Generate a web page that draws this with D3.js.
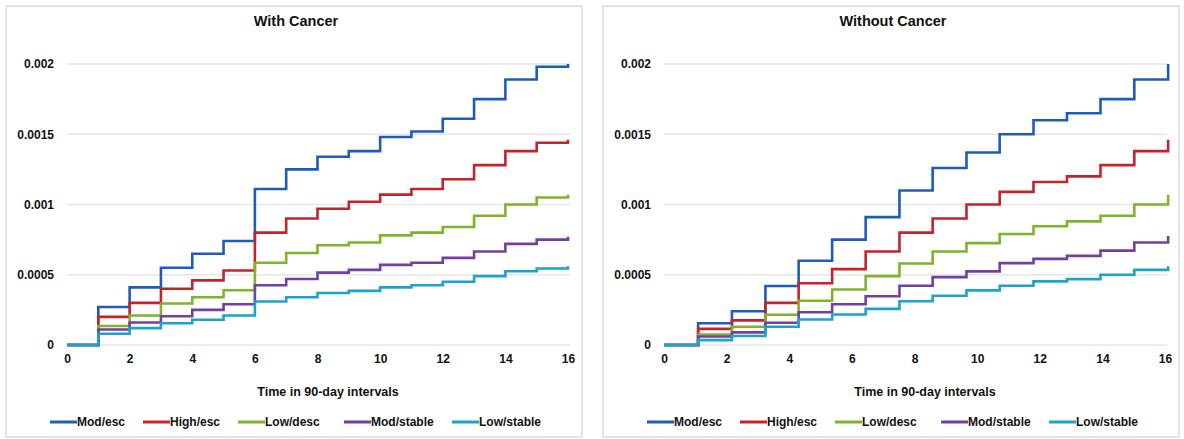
<!DOCTYPE html>
<html>
<head>
<meta charset="utf-8">
<script src="https://cdn.jsdelivr.net/npm/d3@7"></script>
<style>
  body { margin: 0; background: #fff; }
  svg text { font-family: "Liberation Sans", Arial, sans-serif; font-weight: bold; fill: #111; }
</style>
</head>
<body>
<div id="chart"></div>
<script>
// ---- data ----
const seriesNames = ["Mod/esc", "High/esc", "Low/desc", "Mod/stable", "Low/stable"];
const seriesColors = ["#1f5cb8", "#c3242b", "#7db52a", "#7440a0", "#1ca3cb"];
const xTicks = [0, 2, 4, 6, 8, 10, 12, 14, 16];
const yTicks = [0, 0.0005, 0.001, 0.0015, 0.002];
const yTickLabels = ["0", "0.0005", "0.001", "0.0015", "0.002"];

// With Cancer
const withTimes = [0, 1, 2, 3, 4, 5, 6, 7, 8, 9, 10, 11, 12, 13, 14, 15, 16];
const withModEsc = [0, 0.00027, 0.00041, 0.00055, 0.00065, 0.00074, 0.00111, 0.00125, 0.00134, 0.00138, 0.00148, 0.00152, 0.00161, 0.00175, 0.00189, 0.00198, 0.002];
const withHighEsc = [0, 0.0002, 0.0003, 0.0004, 0.00046, 0.00053, 0.0008, 0.0009, 0.00097, 0.00102, 0.00107, 0.00111, 0.00118, 0.00128, 0.00138, 0.00144, 0.00146];
const withLowDesc = [0, 0.000135, 0.00021, 0.000295, 0.00034, 0.00039, 0.000585, 0.000655, 0.00071, 0.00073, 0.00078, 0.0008, 0.00084, 0.00092, 0.001, 0.00105, 0.00107];
const withModStable = [0, 0.00011, 0.00016, 0.000205, 0.00025, 0.00029, 0.000425, 0.00047, 0.000515, 0.000535, 0.00057, 0.000585, 0.00062, 0.000665, 0.00072, 0.00075, 0.00077];
const withLowStable = [0, 0.00008, 0.00012, 0.000155, 0.00018, 0.00021, 0.00031, 0.00034, 0.00037, 0.000385, 0.00041, 0.000425, 0.00045, 0.00049, 0.000525, 0.000545, 0.00056];

// Without Cancer
const withoutTimes = [0, 1.09, 2.17, 3.24, 4.3, 5.37, 6.44, 7.52, 8.58, 9.66, 10.72, 11.8, 12.87, 13.94, 15.02, 16.1];
const withoutModEsc = [0, 0.000155, 0.00024, 0.00042, 0.0006, 0.00075, 0.00091, 0.0011, 0.00126, 0.00137, 0.0015, 0.0016, 0.00165, 0.00175, 0.00189, 0.002];
const withoutHighEsc = [0, 0.000115, 0.000175, 0.0003, 0.00044, 0.00054, 0.000665, 0.0008, 0.0009, 0.001, 0.00109, 0.00116, 0.0012, 0.00128, 0.00138, 0.00146];
const withoutLowDesc = [0, 0.000075, 0.00013, 0.000215, 0.000315, 0.000395, 0.00049, 0.00058, 0.000665, 0.000725, 0.00079, 0.000845, 0.00088, 0.00092, 0.001, 0.00107];
const withoutModStable = [0, 0.00006, 0.00009, 0.000158, 0.000233, 0.00029, 0.000347, 0.000422, 0.000483, 0.000524, 0.000583, 0.000613, 0.000634, 0.000672, 0.00073, 0.000776];
const withoutLowStable = [0, 0.000035, 0.000064, 0.00013, 0.000182, 0.000217, 0.000257, 0.000311, 0.000351, 0.000389, 0.000422, 0.000453, 0.000469, 0.0005, 0.000535, 0.00056];

const panels = [
    { title: "With Cancer", left: 6, times: withTimes,
      series: [withModEsc, withHighEsc, withLowDesc, withModStable, withLowStable] },
    { title: "Without Cancer", left: 603, times: withoutTimes,
      series: [withoutModEsc, withoutHighEsc, withoutLowDesc, withoutModStable, withoutLowStable] }
];

const svg = d3.select("#chart").append("svg")
    .attr("width", 1184)
    .attr("height", 439);

const panelW = 576, panelH = 431;
// legend offsets inside a panel (line start)
const legendX = [44, 137, 232, 338, 446];

panels.forEach(p => {
    const g = svg.append("g").attr("transform", `translate(${p.left}, 6)`);

    g.append("rect")
        .attr("width", panelW)
        .attr("height", panelH)
        .attr("fill", "#fff")
        .attr("stroke", "#dcdcdc")
        .attr("stroke-width", 1.5);

    g.append("text")
        .attr("x", 290)
        .attr("y", 20)
        .attr("text-anchor", "middle")
        .style("font-size", "14.5px")
        .text(p.title);

    const x = d3.scaleLinear().domain([0, 16]).range([61, 562]);
    const y = d3.scaleLinear().domain([0, 0.002]).range([339, 58]);

    // gridlines
    g.selectAll(".grid")
        .data(yTicks)
        .enter().append("line")
        .attr("x1", x(0))
        .attr("x2", x(16) + 2)
        .attr("y1", d => y(d))
        .attr("y2", d => y(d))
        .attr("stroke", "#e6e6e6")
        .attr("stroke-width", 1.5);

    // y axis
    const yAxis = d3.axisLeft(y)
        .tickValues(yTicks)
        .tickFormat((d, i) => yTickLabels[i])
        .tickSize(0)
        .tickPadding(13);
    const yG = g.append("g").attr("transform", `translate(${x(0)}, 0)`).call(yAxis);
    yG.select(".domain").remove();
    yG.selectAll("text").style("font-size", "12px");

    // x axis
    const xAxis = d3.axisBottom(x)
        .tickValues(xTicks)
        .tickSize(0)
        .tickPadding(9);
    const xG = g.append("g").attr("transform", `translate(0, ${y(0)})`).call(xAxis);
    xG.select(".domain").remove();
    xG.selectAll("text").style("font-size", "12px");

    g.append("text")
        .attr("x", 322)
        .attr("y", 390)
        .attr("text-anchor", "middle")
        .style("font-size", "12.5px")
        .text("Time in 90-day intervals");

    const line = d3.line()
        .x((d, i) => x(p.times[i]))
        .y(d => y(d))
        .curve(d3.curveStepAfter);

    g.selectAll(".series")
        .data(p.series)
        .enter().append("path")
        .attr("class", "series")
        .attr("d", d => line(d))
        .attr("fill", "none")
        .attr("stroke", (d, i) => seriesColors[i])
        .attr("stroke-width", 2.6);

    // legend
    const leg = g.selectAll(".legend")
        .data(seriesNames)
        .enter().append("g")
        .attr("class", "legend")
        .attr("transform", (d, i) => `translate(${legendX[i]}, 416)`);
    leg.append("line")
        .attr("x1", 0).attr("x2", 27)
        .attr("stroke", (d, i) => seriesColors[i])
        .attr("stroke-width", 3);
    leg.append("text")
        .attr("x", 27)
        .attr("dy", "0.35em")
        .style("font-size", "12px")
        .text(d => d);
});
</script>
</body>
</html>
